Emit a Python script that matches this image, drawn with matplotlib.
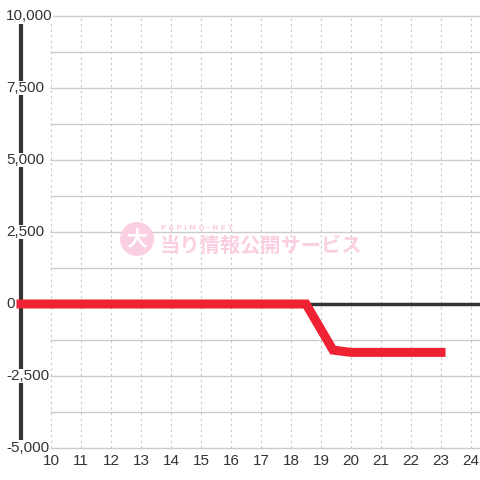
import numpy as np
import matplotlib.pyplot as plt
from matplotlib.patches import Circle

# %% DATA
hours = [9, 18.5, 19.4, 20, 23]
diff = [0, 0, -1600, -1680, -1680]
x_ticks = list(range(10, 25))
y_ticks = [-5000, -2500, 0, 2500, 5000, 7500, 10000]
y_grid = np.arange(-5000, 10001, 1250)

# %% PLOT
fig = plt.figure(figsize=(4.8, 4.8), dpi=100)
ax = fig.add_axes([0, 0, 1, 1])
ax.set_xlim(10 - 51 / 30, 10 + 429 / 30)
ax.set_ylim(-176 / 36 * 1250, 304 / 36 * 1250)
ax.axis('off')

# grid
ax.hlines(y_grid, 10 - 1 / 30, 24.4, color='#cccccc', lw=1, zorder=1)
ax.vlines(x_ticks, -5000, 10000, color='#c8c8c8', lw=0.8,
          linestyles=(0, (2, 3)), zorder=1)

# watermark
pink = '#fbcfe2'
ax.add_patch(Circle((137 / 480, 1 - 239 / 480), 17 / 480, transform=ax.transAxes,
                    facecolor=pink, edgecolor='none', zorder=2))
ax.text(137 / 480, 1 - 240 / 480, '大', transform=ax.transAxes, fontsize=15,
        color='white', ha='center', va='center', family='Noto Sans CJK JP',
        weight='bold', zorder=3)
ax.text(0.336, 0.525, 'P A P I M O - N E T', transform=ax.transAxes, fontsize=5,
        color=pink, ha='left', va='center', weight='bold', zorder=2)
ax.text(0.332, 0.488, '当り情報公開サービス', transform=ax.transAxes, fontsize=14.6,
        color=pink, ha='left', va='center', family='Noto Sans CJK JP',
        weight='bold', zorder=2)

# axes lines
ax.plot([9, 9], [-4722, 9722], color='#333333', lw=3, zorder=3,
        solid_capstyle='butt')
ax.plot([9, 24.4], [0, 0], color='#333333', lw=2.5, zorder=3)

# data line
ax.plot(hours, diff, color='#ee2233', lw=6.5, zorder=5,
        solid_capstyle='projecting', solid_joinstyle='miter')

# tick labels
for v in y_ticks:
    ax.text(6 / 480, 1 - (304 - v / 1250 * 36) / 480, f'{v:,}',
            transform=ax.transAxes, fontsize=11, color='#333333',
            ha='left', va='center', family='Liberation Sans', zorder=6,
            bbox=dict(facecolor='white', edgecolor='none', pad=0.3))
for h in x_ticks:
    ax.text(h, -5000 - 13 / 36 * 1250, str(h), fontsize=11, color='#333333',
            ha='center', va='center', family='Liberation Sans', zorder=7)

plt.savefig('out.png', dpi=100, facecolor='white')
